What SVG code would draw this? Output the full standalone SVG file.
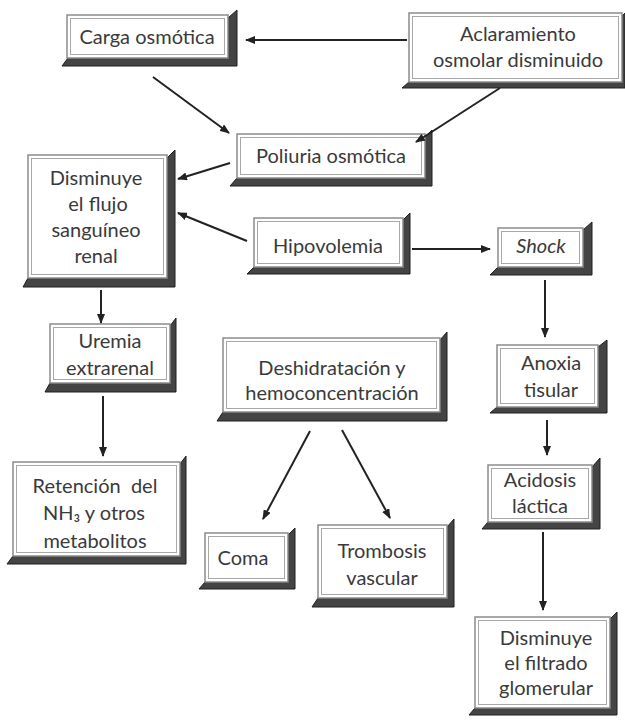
<svg xmlns="http://www.w3.org/2000/svg" width="625" height="722" viewBox="0 0 625 722">
<defs>
<style>
.o{fill:#fff;stroke:#8c8c8c;stroke-width:1.5}
.i{fill:none;stroke:#a8a8a8;stroke-width:1}
.s{fill:#444;stroke:#1e1e1e;stroke-width:1}
.t{font-family:Lato,"Open Sans","Liberation Sans",sans-serif;font-size:20px;fill:#3a3a3a;text-anchor:middle}
.c{stroke:#222;stroke-width:2;fill:none;marker-end:url(#ah)}
</style>
<marker id="ah" markerWidth="10" markerHeight="8" refX="9" refY="4" orient="auto" markerUnits="userSpaceOnUse">
<path d="M0,0 L10,4 L0,8 Z" fill="#222"/>
</marker>
</defs>
<rect width="625" height="722" fill="#fff"/>

<g id="carga">
<polygon class="s" points="228,18 237,10 237,66 62,66 68,58 228,58"/>
<rect class="o" x="67" y="15" width="161" height="43"/>
<rect class="i" x="70.5" y="18.5" width="154" height="36"/>
<text class="t" x="147" y="44">Carga osmótica</text>
</g>

<g id="aclaramiento">
<polygon class="s" points="622,16 625,13 625,88 402,88 409,82 622,82"/>
<rect class="o" x="409" y="13" width="213" height="69"/>
<rect class="i" x="412.5" y="16.5" width="206" height="62"/>
<text class="t" x="518" y="41">Aclaramiento</text>
<text class="t" x="518" y="67">osmolar disminuido</text>
</g>

<g id="poliuria">
<polygon class="s" points="425,137 432,130 432,186 230,186 237,178 425,178"/>
<rect class="o" x="237" y="134" width="188" height="44"/>
<rect class="i" x="240.5" y="137.5" width="181" height="37"/>
<text class="t" x="331" y="163">Poliuria osmótica</text>
</g>

<g id="flujo">
<polygon class="s" points="167,158 175,150 175,287 23,287 28,278 167,278"/>
<rect class="o" x="28" y="155" width="139" height="123"/>
<rect class="i" x="31.5" y="158.5" width="132" height="116"/>
<text class="t" x="96" y="185">Disminuye</text>
<text class="t" x="98" y="211">el flujo</text>
<text class="t" x="96" y="237">sanguíneo</text>
<text class="t" x="96" y="263">renal</text>
</g>

<g id="hipovolemia">
<polygon class="s" points="403,220 410,213 410,274 247,274 254,267 403,267"/>
<rect class="o" x="254" y="218" width="149" height="49"/>
<rect class="i" x="257.5" y="221.5" width="142" height="42"/>
<text class="t" x="328" y="253">Hipovolemia</text>
</g>

<g id="shock">
<polygon class="s" points="583,230 592,222 592,275 490,275 498,267 583,267"/>
<rect class="o" x="498" y="228" width="85" height="39"/>
<rect class="i" x="501.5" y="231.5" width="78" height="32"/>
<text class="t" x="541" y="253" font-style="italic">Shock</text>
</g>

<g id="uremia">
<polygon class="s" points="170,326 176,318 176,392 45,392 50,383 170,383"/>
<rect class="o" x="50" y="324" width="120" height="59"/>
<rect class="i" x="53.5" y="327.5" width="113" height="52"/>
<text class="t" x="110" y="348">Uremia</text>
<text class="t" x="110" y="375">extrarenal</text>
</g>

<g id="deshidratacion">
<polygon class="s" points="440,340 447,332 447,421 217,421 223,412 440,412"/>
<rect class="o" x="223" y="338" width="217" height="74"/>
<rect class="i" x="226.5" y="341.5" width="210" height="67"/>
<text class="t" x="332" y="375">Deshidratación y</text>
<text class="t" x="332" y="400">hemoconcentración</text>
</g>

<g id="anoxia">
<polygon class="s" points="598,347 607,340 607,413 490,413 497,407 598,407"/>
<rect class="o" x="497" y="345" width="101" height="62"/>
<rect class="i" x="500.5" y="348.5" width="94" height="55"/>
<text class="t" x="551" y="370">Anoxia</text>
<text class="t" x="551" y="397">tisular</text>
</g>

<g id="acidosis">
<polygon class="s" points="592,467 600,458 600,529 482,529 488,522 592,522"/>
<rect class="o" x="488" y="465" width="104" height="57"/>
<rect class="i" x="491.5" y="468.5" width="97" height="50"/>
<text class="t" x="540" y="487">Acidosis</text>
<text class="t" x="540" y="513">láctica</text>
</g>

<g id="retencion">
<polygon class="s" points="180,464 186,456 186,564 7,564 13,556 180,556"/>
<rect class="o" x="13" y="462" width="167" height="94"/>
<rect class="i" x="16.5" y="465.5" width="160" height="87"/>
<text class="t" x="95" y="493" xml:space="preserve">Retención  del</text>
<text class="t" x="94" y="520">NH₃ y otros</text>
<text class="t" x="95" y="548">metabolitos</text>
</g>

<g id="coma">
<polygon class="s" points="288,535 295,528 295,589 199,589 205,582 288,582"/>
<rect class="o" x="205" y="533" width="83" height="49"/>
<rect class="i" x="208.5" y="536.5" width="76" height="42"/>
<text class="t" x="243" y="565">Coma</text>
</g>

<g id="trombosis">
<polygon class="s" points="447,527 454,519 454,607 312,607 318,598 447,598"/>
<rect class="o" x="318" y="525" width="129" height="73"/>
<rect class="i" x="321.5" y="528.5" width="122" height="66"/>
<text class="t" x="382" y="558">Trombosis</text>
<text class="t" x="382" y="585">vascular</text>
</g>

<g id="filtrado">
<polygon class="s" points="610,619 617,612 617,715 469,715 475,708 610,708"/>
<rect class="o" x="475" y="617" width="135" height="91"/>
<rect class="i" x="478.5" y="620.5" width="128" height="84"/>
<text class="t" x="546" y="645">Disminuye</text>
<text class="t" x="546" y="670">el filtrado</text>
<text class="t" x="546" y="695">glomerular</text>
</g>

<g id="connectors">
<line class="c" x1="407" y1="40" x2="246" y2="40"/>
<line class="c" x1="153" y1="77" x2="229" y2="133"/>
<line class="c" x1="500" y1="88" x2="416" y2="142"/>
<line class="c" x1="230" y1="163" x2="178" y2="179"/>
<line class="c" x1="247" y1="241" x2="178" y2="213"/>
<line class="c" x1="412" y1="249" x2="490" y2="249"/>
<line class="c" x1="545" y1="280" x2="545" y2="337"/>
<line class="c" x1="547" y1="420" x2="547" y2="455"/>
<line class="c" x1="543" y1="532" x2="543" y2="610"/>
<line class="c" x1="101" y1="290" x2="101" y2="323"/>
<line class="c" x1="103" y1="396" x2="103" y2="456"/>
<line class="c" x1="310" y1="431" x2="263" y2="519"/>
<line class="c" x1="342" y1="430" x2="390" y2="518"/>
</g>
</svg>
